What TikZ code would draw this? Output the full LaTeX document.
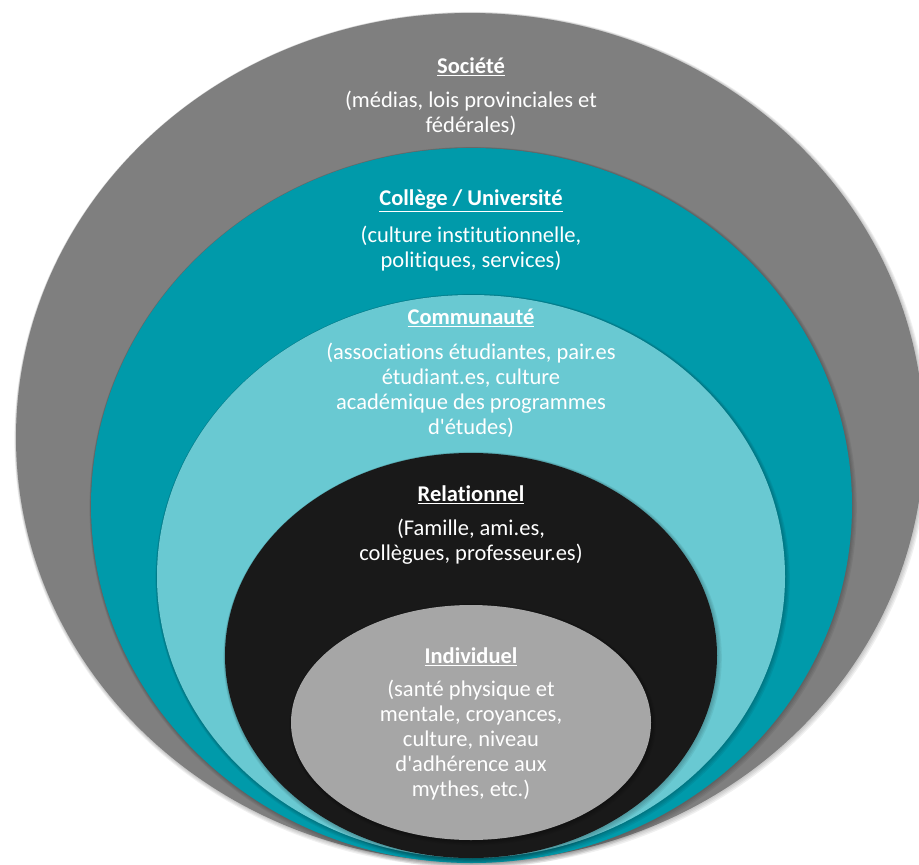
\documentclass[tikz,border=0pt]{standalone}
\usepackage{fontspec}
\setmainfont{Carlito}[Ligatures={NoCommon,TeXOff}]
\definecolor{cgrey}{HTML}{7F7F7F}
\definecolor{cteal}{HTML}{009AAA}
\definecolor{clteal}{HTML}{69C9D2}
\definecolor{cblack}{HTML}{191919}
\definecolor{clgrey}{HTML}{A6A6A6}
\begin{document}
\begin{tikzpicture}[x=1pt,y=-1pt,
  ttl/.style={text=white,font=\fontsize{22.5}{25}\selectfont\bfseries,inner sep=0pt},
  bodytxt/.style={text=white,font=\fontsize{22.5}{25}\selectfont,align=center,inner sep=0pt}]
\useasboundingbox (0,0) rectangle (919,865);
\clip (0,0) rectangle (919,865);
\newcommand{\layer}[5]{%
  \foreach \k in {4,3,2,1}{%
    \fill[black,opacity=0.06] (#1+0.4*\k,#2+0.5*\k) ellipse [x radius=#3pt+0.8*\k pt, y radius=#4pt+0.8*\k pt];}%
  \fill[#5] (#1,#2) ellipse [x radius=#3pt, y radius=#4pt];}
\layer{470}{437.5}{454}{424.5}{cgrey}
\layer{471.5}{505.5}{380.5}{357.5}{cteal}
\layer{471}{576.5}{314}{281.5}{clteal}
\layer{471}{655.5}{246}{202.5}{cblack}
\layer{471}{722.5}{180}{117.5}{clgrey}
\node[ttl] (t1) at (471,67) {\underline{Société}};
\node[bodytxt] (b1) at (471,113) {(médias, lois provinciales et\\fédérales)};
\node[ttl] (t2) at (471,201) {\underline{Collège / Université}};
\node[bodytxt] (b2) at (471,249) {(culture institutionnelle,\\politiques, services)};
\node[ttl] (t3) at (471,318) {\underline{Communauté}};
\node[bodytxt] (b3) at (471,390) {(associations étudiantes, pair.es\\étudiant.es, culture\\académique des programmes\\d'études)};
\node[ttl] (t4) at (471,495) {\underline{Relationnel}};
\node[bodytxt] (b4) at (471,542) {(Famille, ami.es,\\collègues, professeur.es)};
\node[ttl] (t5) at (471,657) {\underline{Individuel}};
\node[bodytxt] (b5) at (471,740) {(santé physique et\\mentale, croyances,\\culture, niveau\\d'adhérence aux\\mythes, etc.)};
\end{tikzpicture}
\end{document}
